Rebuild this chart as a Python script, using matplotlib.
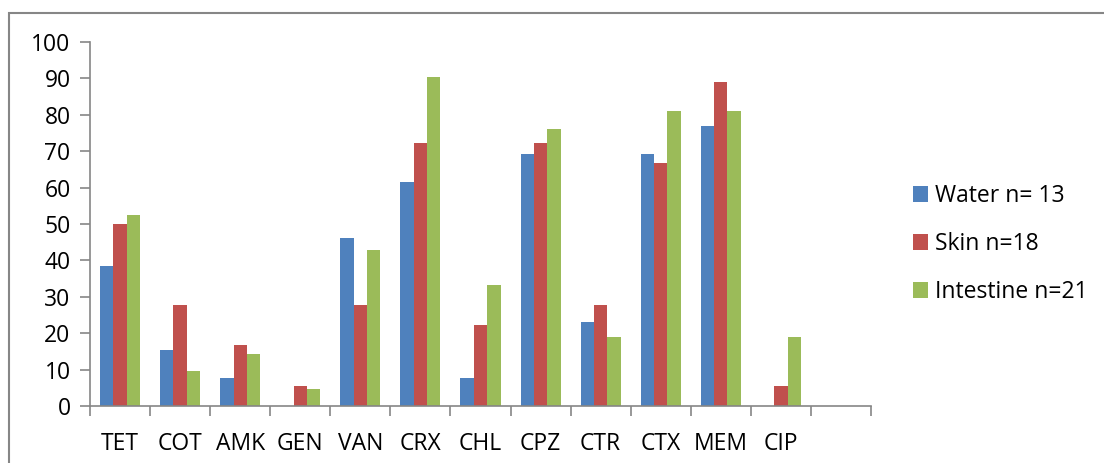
import numpy as np
import matplotlib.pyplot as plt
from matplotlib.patches import Rectangle

# Datos (porcentaje de resistencia por antibiótico)
categorias = ['TET', 'COT', 'AMK', 'GEN', 'VAN', 'CRX', 'CHL', 'CPZ', 'CTR', 'CTX', 'MEM', 'CIP', '']
water = [38.46, 15.38, 7.69, 0, 46.15, 61.54, 7.69, 69.23, 23.08, 69.23, 76.92, 0, 0]
skin = [50.0, 27.78, 16.67, 5.56, 27.78, 72.22, 22.22, 72.22, 27.78, 66.67, 88.89, 5.56, 0]
intestine = [52.38, 9.52, 14.29, 4.76, 42.86, 90.48, 33.33, 76.19, 19.05, 80.95, 80.95, 19.05, 0]
series = ['Water n= 13', 'Skin n=18', 'Intestine n=21']
colores = ['#4F81BD', '#C0504D', '#9BBB59']

plt.rcParams['font.family'] = ['Open Sans', 'DejaVu Sans']
W, H = 1104, 463
fig = plt.figure(figsize=(W / 100, H / 100), dpi=100)
ax = fig.add_axes([90 / W, 57 / H, (871 - 90) / W, (421 - 57) / H])

x = np.arange(len(categorias))
w = 1 / 4.5
for k, (vals, lab, c) in enumerate(zip([water, skin, intestine], series, colores)):
    ax.bar(x + (k - 1) * w, vals, width=w, color=c, label=lab, zorder=2)

gris = '#868686'
ax.set_xlim(-0.5, len(categorias) - 0.5)
ax.set_ylim(0, 100)
ax.set_yticks(np.arange(0, 101, 10))
ax.set_xticks(x)
ax.set_xticklabels(categorias)
ax.set_xticks(np.arange(-0.5, len(categorias)), minor=True)
ax.tick_params(axis='x', which='major', length=0, pad=19, labelsize=16.5)
ax.tick_params(axis='x', which='minor', length=7, width=1.2, color=gris, direction='out')
ax.tick_params(axis='y', length=7, width=1.2, color=gris, pad=7, labelsize=16.5)
for s in ['top', 'right']:
    ax.spines[s].set_visible(False)
for s in ['left', 'bottom']:
    ax.spines[s].set_color(gris)
    ax.spines[s].set_linewidth(1.2)

# Marco exterior del gráfico
fig.patches.append(Rectangle((9 / W, -0.05), 1.1, (H - 13) / H + 0.05, transform=fig.transFigure,
                             fill=False, edgecolor=gris, linewidth=1.5))

ax.legend(loc='center left', bbox_to_anchor=(892 / W, (463 - 244) / H), bbox_transform=fig.transFigure,
          frameon=False, fontsize=16.5, handlelength=0.68, handleheight=0.68, handletextpad=0.3,
          labelspacing=1.05)

fig.savefig('out.png', dpi=100)
